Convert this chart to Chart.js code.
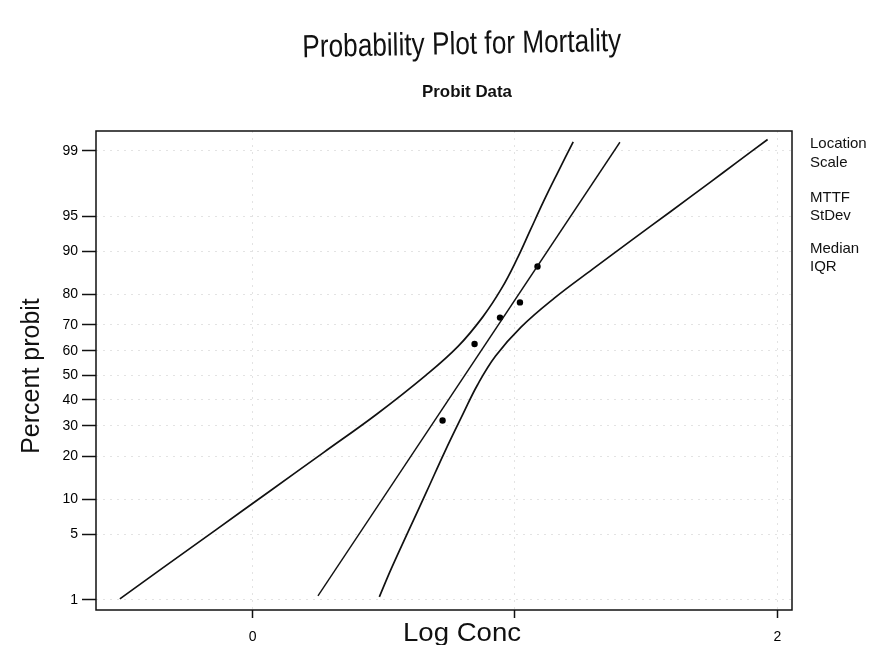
<!DOCTYPE html>
<html>
<head>
<meta charset="utf-8">
<script src="https://cdn.jsdelivr.net/npm/chart.js@4.4.1/dist/chart.umd.min.js"></script>
<style>
  html, body { margin: 0; padding: 0; background: #fff; }
  canvas { display: block; }
</style>
</head>
<body>
<canvas id="chart" width="871" height="645"></canvas>
<script>
// probit axis: ticks are percent, plotted in normal-score units
const tickPct = [1, 5, 10, 20, 30, 40, 50, 60, 70, 80, 90, 95, 99];
const xTicks = [0, 1, 2];
const xTickLabels = ['0', '', '2'];

// observed mortality
const logConc = [0.724, 0.846, 0.943, 1.019, 1.086];
const mortPct = [32.0, 62.7, 72.5, 77.5, 87.0];

// fitted line ends
const fitX = [0.249, 1.400];
const fitPct = [1.12, 99.21];

// confidence band, left curve
const leftX = [-0.506, -0.345, -0.140, 0.065, 0.270, 0.474, 0.660, 0.783, 0.876, 0.949, 1.007, 1.058, 1.109, 1.163, 1.222];
const leftPct = [1.03, 2.28, 5.48, 11.51, 21.19, 34.46, 50.0, 61.79, 72.58, 81.59, 88.49, 93.32, 96.41, 98.21, 99.22];

// confidence band, right curve
const rightX = [0.483, 0.529, 0.596, 0.664, 0.731, 0.802, 0.857, 0.926, 1.023, 1.150, 1.296, 1.445, 1.595, 1.745, 1.843, 1.963];
const rightPct = [1.09, 2.28, 5.48, 11.51, 21.19, 34.46, 46.02, 57.93, 69.15, 78.81, 86.43, 91.92, 95.54, 97.73, 98.61, 99.27];

const sideLabels = [['Location', 148], ['Scale', 167], ['MTTF', 202], ['StDev', 220], ['Median', 253], ['IQR', 271]];

// inverse normal cdf (Acklam)
function probit(p) {
  const a = [-39.69683028665376, 220.9460984245205, -275.9285104469687, 138.3577518672690, -30.66479806614716, 2.506628277459239];
  const b = [-54.47609879822406, 161.5858368580409, -155.6989798598866, 66.80131188771972, -13.28068155288572];
  const c = [-0.007784894002430293, -0.3223964580411365, -2.400758277161838, -2.549732539343734, 4.374664141464968, 2.938163982698783];
  const d = [0.007784695709041462, 0.3224671290700398, 2.445134137142996, 3.754408661907416];
  const tail = q => (((((c[0]*q+c[1])*q+c[2])*q+c[3])*q+c[4])*q+c[5]) / ((((d[0]*q+d[1])*q+d[2])*q+d[3])*q+1);
  if (p < 0.02425) return tail(Math.sqrt(-2 * Math.log(p)));
  if (p > 1 - 0.02425) return -tail(Math.sqrt(-2 * Math.log(1 - p)));
  const q = p - 0.5, r = q * q;
  return (((((a[0]*r+a[1])*r+a[2])*r+a[3])*r+a[4])*r+a[5])*q / (((((b[0]*r+b[1])*r+b[2])*r+b[3])*r+b[4])*r+1);
}

const toPts = (xs, ps) => xs.map((x, i) => ({x: x, y: probit(ps[i] / 100)}));

const SANS = "'Liberation Sans', Arial, sans-serif";

function fitText(ctx, text, cx, y, font, w, rot) {
  ctx.save();
  ctx.font = font;
  const m = ctx.measureText(text).width;
  ctx.translate(cx, y);
  if (rot) ctx.rotate(rot);
  ctx.scale(w / m, 1);
  ctx.textAlign = 'center';
  ctx.textBaseline = 'alphabetic';
  ctx.fillStyle = '#111';
  ctx.fillText(text, 0, 0);
  ctx.restore();
}

const decor = {
  id: 'decor',
  beforeDraw(chart) {
    const ctx = chart.ctx;
    ctx.save();
    ctx.fillStyle = '#fff';
    ctx.fillRect(0, 0, chart.width, chart.height);
    ctx.restore();
  },
  afterDraw(chart) {
    const ctx = chart.ctx, a = chart.chartArea;
    ctx.save();
    ctx.strokeStyle = '#111';
    ctx.lineWidth = 1.5;
    ctx.strokeRect(a.left, a.top, a.right - a.left, a.bottom - a.top);
    ctx.restore();

    fitText(ctx, 'Probability Plot for Mortality', 462, 54, "32px 'Liberation Sans Narrow', " + SANS, 319, -0.02);
    fitText(ctx, 'Probit Data', 467, 97, 'bold 17px ' + SANS, 90);
    fitText(ctx, 'Log Conc', 462, 641, '26px ' + SANS, 118);

    // y axis title, rotated by hand so it sits where the original does
    ctx.save();
    ctx.translate(39, 376);
    ctx.rotate(-Math.PI / 2);
    ctx.font = '25px ' + SANS;
    ctx.fillStyle = '#111';
    ctx.textAlign = 'center';
    ctx.fillText('Percent probit', 0, 0);
    ctx.restore();

    ctx.save();
    ctx.font = '15px ' + SANS;
    ctx.fillStyle = '#111';
    ctx.textAlign = 'left';
    sideLabels.forEach(([t, y]) => ctx.fillText(t, 810, y));
    ctx.restore();
  }
};

new Chart(document.getElementById('chart'), {
  type: 'scatter',
  data: {
    datasets: [
      {
        data: toPts(leftX, leftPct),
        showLine: true, pointRadius: 0, borderColor: '#111', borderWidth: 1.7, tension: 0.4
      },
      {
        data: toPts(fitX, fitPct),
        showLine: true, pointRadius: 0, borderColor: '#111', borderWidth: 1.4
      },
      {
        data: toPts(rightX, rightPct),
        showLine: true, pointRadius: 0, borderColor: '#111', borderWidth: 1.7, tension: 0.4
      },
      {
        data: toPts(logConc, mortPct),
        showLine: false, pointRadius: 3.2, pointBackgroundColor: '#000', pointBorderWidth: 0
      }
    ]
  },
  options: {
    responsive: false,
    animation: false,
    layout: { padding: { top: 131, right: 79, bottom: 0, left: 0 } },
    plugins: { legend: { display: false }, tooltip: { enabled: false } },
    scales: {
      x: {
        type: 'linear',
        min: -0.597, max: 2.056,
        afterFit: s => { s.height = 35; },
        afterBuildTicks: s => { s.ticks = xTicks.map(v => ({value: v})); },
        ticks: {
          callback: (v, i) => xTickLabels[i],
          color: '#000', font: { size: 14, family: SANS }, padding: 11, maxRotation: 0
        },
        grid: { color: 'rgba(0,0,0,0.11)', lineWidth: 1, tickLength: 8, tickColor: '#111', tickWidth: 1.5 },
        border: { display: false, dash: [2, 5] }
      },
      y: {
        type: 'linear',
        min: -2.43, max: 2.53,
        afterFit: s => { s.width = 96; },
        afterBuildTicks: s => { s.ticks = tickPct.map(p => ({value: probit(p / 100)})); },
        ticks: {
          callback: (v, i) => tickPct[i],
          color: '#000', font: { size: 14, family: SANS }, padding: 4
        },
        grid: { color: 'rgba(0,0,0,0.11)', lineWidth: 1, tickLength: 14, tickColor: '#111', tickWidth: 1.5 },
        border: { display: false, dash: [2, 5] }
      }
    }
  },
  plugins: [decor]
});
</script>
</body>
</html>
